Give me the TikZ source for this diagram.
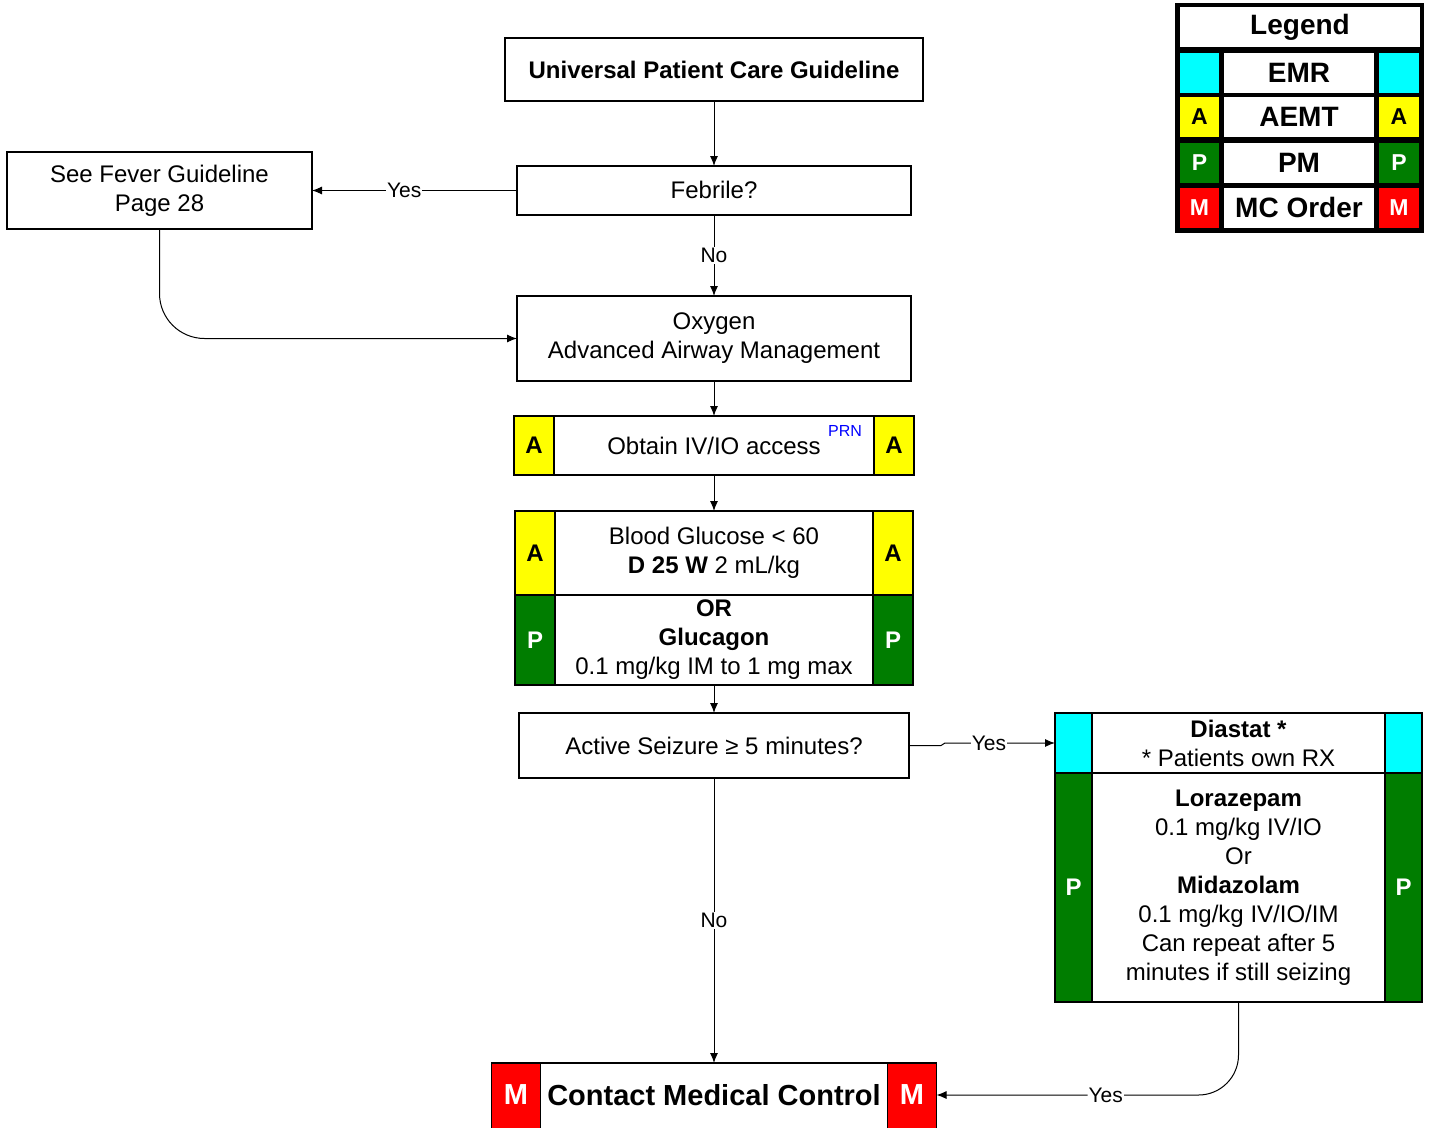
\documentclass[tikz,border=0pt]{standalone}
\usepackage{fontspec}
\setmainfont{Liberation Sans}
\usetikzlibrary{arrows.meta}
\usetikzlibrary{positioning}
\definecolor{emr}{RGB}{0,255,255}
\definecolor{aemt}{RGB}{255,255,0}
\definecolor{pm}{RGB}{0,125,0}
\definecolor{mco}{RGB}{255,0,0}
\newcommand{\fs}{\fontsize{24}{29}\selectfont}
\newcommand{\fl}{\fontsize{28}{32}\selectfont}
\newcommand{\fy}{\fontsize{21}{24}\selectfont}
\tikzset{
box/.style={rectangle,draw=black,line width=1.2pt,fill=white,align=center,inner sep=0pt,outer sep=0pt,font=\fs},
cell/.style={rectangle,draw=black,line width=1.2pt,inner sep=0pt,outer sep=0pt,minimum width=40pt,font=\fs\bfseries},
acell/.style={cell,fill=aemt},
pcell/.style={cell,fill=pm,text=white},
ecell/.style={cell,fill=emr},
mcell/.style={cell,fill=mco,text=white,minimum width=49pt,font=\fontsize{29}{32}\selectfont\bfseries},
arr/.style={-{Latex[length=10pt,width=8pt]},line width=1pt},
lbl/.style={fill=white,inner sep=1pt,font=\fy},
prn/.style={text=blue,inner sep=0pt,font=\fontsize{16}{18}\selectfont},
lgcell/.style={rectangle,inner sep=0pt,outer sep=0pt,font=\fl\bfseries}
}
\begin{document}
\begin{tikzpicture}[x=1pt,y=-1pt]
\useasboundingbox (0,0) rectangle (1429,1127);
% legend
\node at (1299.5,118)[rectangle,fill=black,minimum width=249pt,minimum height=230pt,inner sep=0pt](lgd){};
\node at (1300,27)[lgcell,fill=white,minimum width=240pt,minimum height=40pt](lgt){\raisebox{-4pt}{Legend}};
\foreach \y/\c/\t/\l/\tc [count=\i] in {72.5/emr/EMR//black,117/aemt/AEMT/A/black,162.5/pm/PM/P/white,207.5/mco/MC Order/M/white}{
\node at (1199.5,\y)[lgcell,fill=\c,text=\tc,minimum width=39pt,minimum height=40pt,font=\fontsize{23}{26}\selectfont\bfseries](lgL\i){\l};
\node at (1299,\y)[lgcell,fill=white,minimum width=150pt,minimum height=40pt](lgM\i){\t};
\node at (1399,\y)[lgcell,fill=\c,text=\tc,minimum width=40pt,minimum height=40pt,font=\fontsize{23}{26}\selectfont\bfseries](lgR\i){\l};
}
% main column
\node at (714,69.5)[box,minimum width=418pt,minimum height=63pt](upc){\textbf{Universal Patient Care Guideline}};
\node at (714,190.5)[box,minimum width=394pt,minimum height=49pt](feb){\raisebox{1pt}{Febrile?}};
\node at (159.5,190.5)[box,minimum width=305pt,minimum height=77pt](fev){See Fever Guideline\\Page 28};
\node at (714,338.5)[box,minimum width=394pt,minimum height=85pt](oxy){Oxygen\\Advanced Airway Management};
\node at (714,445.5)[box,minimum width=320pt,minimum height=59pt](iv){Obtain IV/IO access};
\node[acell,minimum height=59pt,left=0pt of iv](ivL){A};
\node[acell,minimum height=59pt,right=0pt of iv](ivR){A};
\node at (845,431)[prn](prn){PRN};
\node at (714,553)[box,minimum width=318pt,minimum height=84pt](glu){Blood Glucose < 60\\\textbf{D 25 W} 2 mL/kg};
\node[acell,minimum height=84pt,left=0pt of glu](gluL){A};
\node[acell,minimum height=84pt,right=0pt of glu](gluR){A};
\node at (714,640)[box,minimum width=318pt,minimum height=90pt](glc){\textbf{OR}\\\textbf{Glucagon}\\0.1 mg/kg IM to 1 mg max};
\node[pcell,minimum height=90pt,left=0pt of glc](glcL){P};
\node[pcell,minimum height=90pt,right=0pt of glc](glcR){P};
\node at (714,745.5)[box,minimum width=390pt,minimum height=65pt](sz){Active Seizure ≥ 5 minutes?};
% seizure treatment
\node at (1238.5,743)[box,minimum width=293pt,minimum height=60pt](dia){\textbf{Diastat *}\\* Patients own RX};
\node[ecell,minimum width=37pt,minimum height=60pt,left=0pt of dia](diaL){};
\node[ecell,minimum width=37pt,minimum height=60pt,right=0pt of dia](diaR){};
\node at (1238.5,887.5)[box,minimum width=293pt,minimum height=229pt](benz){\textbf{Lorazepam}\\0.1 mg/kg IV/IO\\Or\\\textbf{Midazolam}\\0.1 mg/kg IV/IO/IM\\Can repeat after 5\\minutes if still seizing};
\node[pcell,minimum width=37pt,minimum height=229pt,left=0pt of benz](benzL){P};
\node[pcell,minimum width=37pt,minimum height=229pt,right=0pt of benz](benzR){P};
% medical control
\node at (714,1101)[box,minimum width=347pt,minimum height=76pt,font=\fontsize{29}{32}\selectfont\bfseries](mc){\raisebox{13pt}{Contact Medical Control}};
\node[mcell,minimum height=76pt,left=0pt of mc](mcL){\raisebox{13pt}{M}};
\node[mcell,minimum height=76pt,right=0pt of mc](mcR){\raisebox{13pt}{M}};
% connectors
\draw[arr] (upc) -- (feb);
\draw[arr] (feb) -- node[lbl,pos=0.55]{Yes} (fev);
\draw[arr] (feb) -- node[lbl]{No} (oxy);
\draw[arr,rounded corners=45pt] (fev.south) |- (oxy.west);
\draw[arr] (oxy) -- (iv);
\draw[arr] (iv) -- (glu);
\draw[arr] (glc) -- (sz);
\draw[arr] (sz.east) -- (941,745.5) -- (945,743) -- node[lbl,pos=0.4]{Yes} (diaL.west);
\draw[arr] (sz) -- node[lbl]{No} (mc);
\draw[arr,rounded corners=40pt] (benz.south) |- node[lbl,pos=0.72]{Yes} ([yshift=6pt]mcR.east);
\end{tikzpicture}
\end{document}
